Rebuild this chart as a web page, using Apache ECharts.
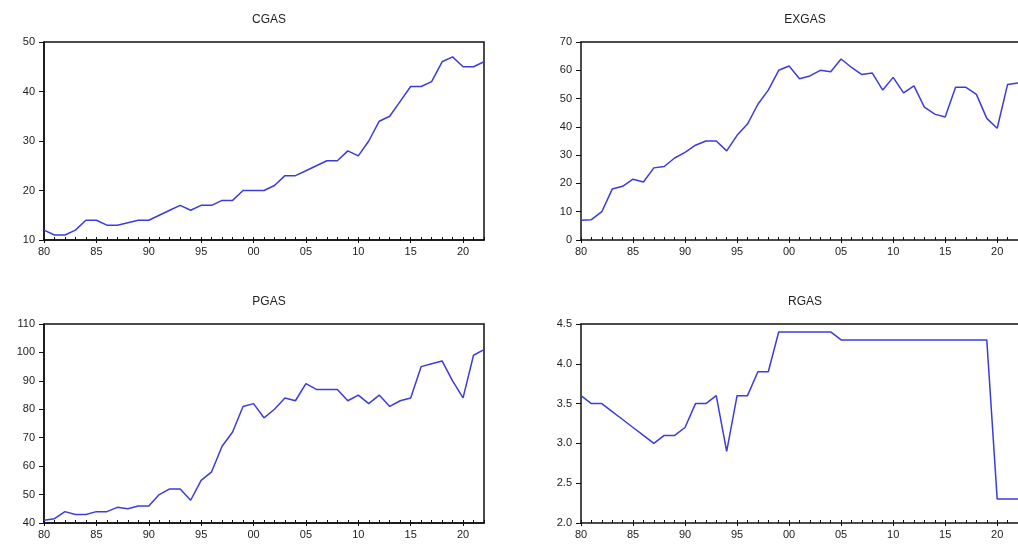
<!DOCTYPE html>
<html>
<head>
<meta charset="utf-8">
<script src="https://cdn.jsdelivr.net/npm/echarts@6/dist/echarts.min.js"></script>
<style>html,body{margin:0;padding:0;background:#fff;overflow:hidden}#c{width:1018px;height:544px}</style>
</head>
<body>
<div id="c"></div>
<script>
const years = [];
for (let y = 1980; y <= 2022; y++) years.push(String(y));

const titles = ['CGAS', 'EXGAS', 'PGAS', 'RGAS'];

const cgas = [12, 11, 11, 12, 14, 14, 13, 13, 13.5, 14, 14, 15, 16, 17, 16, 17, 17, 18, 18, 20,
  20, 20, 21, 23, 23, 24, 25, 26, 26, 28, 27, 30, 34, 35, 38, 41, 41, 42, 46, 47, 45, 45, 46];

const exgas = [7, 7.2, 10, 18, 19, 21.5, 20.5, 25.5, 26, 29, 31, 33.5, 35, 35, 31.5, 37, 41, 48, 53, 60,
  61.5, 57, 58, 60, 59.5, 64, 61, 58.5, 59, 53, 57.5, 52, 54.5, 47, 44.5, 43.5, 54, 54, 51.5, 43, 39.5, 55, 55.5];

const pgas = [41, 41.5, 44, 43, 43, 44, 44, 45.5, 45, 46, 46, 50, 52, 52, 48, 55, 58, 67, 72, 81,
  82, 77, 80, 84, 83, 89, 87, 87, 87, 83, 85, 82, 85, 81, 83, 84, 95, 96, 97, 90, 84, 99, 101];

const rgas = [3.6, 3.5, 3.5, 3.4, 3.3, 3.2, 3.1, 3.0, 3.1, 3.1, 3.2, 3.5, 3.5, 3.6, 2.9, 3.6, 3.6, 3.9, 3.9, 4.4,
  4.4, 4.4, 4.4, 4.4, 4.4, 4.3, 4.3, 4.3, 4.3, 4.3, 4.3, 4.3, 4.3, 4.3, 4.3, 4.3, 4.3, 4.3, 4.3, 4.3, 2.3, 2.3, 2.3];

const yMin = [10, 0, 40, 2.0];
const yMax = [50, 70, 110, 4.5];
const yInterval = [10, 10, 10, 0.5];
const yDecimals = [0, 0, 0, 1];

const seriesData = [cgas, exgas, pgas, rgas];

const grids = [
  { left: 44, top: 42, width: 440, height: 198, cx: 264, border: true },
  { left: 581, top: 42, width: 439, height: 198, cx: 800, border: false },
  { left: 44, top: 324, width: 440, height: 199, cx: 264, border: true },
  { left: 581, top: 324, width: 439, height: 199, cx: 800, border: false }
];

const font = 'Liberation Sans, Arial, sans-serif';
const isMajor = (i) => (1980 + i) % 5 === 0;

const option = {
  backgroundColor: '#fff',
  animation: false,
  title: titles.map((t, i) => ({
    text: t,
    left: grids[i].cx,
    top: grids[i].top - 33,
    textAlign: 'center',
    textStyle: { fontFamily: font, fontSize: 12, fontWeight: 'normal', color: '#222' }
  })),
  grid: grids.map(g => ({
    show: g.border, borderColor: '#111', borderWidth: 1.5, backgroundColor: 'transparent',
    left: g.left, top: g.top, width: g.width, height: g.height
  })),
  xAxis: [],
  yAxis: [],
  series: []
};

for (let i = 0; i < 4; i++) {
  option.xAxis.push({
    type: 'category', gridIndex: i, data: years, boundaryGap: false, position: 'bottom',
    axisLine: { lineStyle: { color: '#111', width: 1.5 } },
    axisTick: { show: true, inside: true, length: 3, interval: 0, lineStyle: { color: '#111', width: 1 } },
    axisLabel: {
      interval: (idx) => isMajor(idx),
      formatter: (v) => v.slice(2),
      fontFamily: font, fontSize: 11, color: '#222', margin: 6
    },
    splitLine: { show: false }
  });
  option.xAxis.push({
    type: 'category', gridIndex: i, data: years, boundaryGap: false, position: 'bottom',
    axisLine: { show: false },
    axisTick: { show: true, inside: false, length: 3, interval: (idx) => isMajor(idx), lineStyle: { color: '#111', width: 1 } },
    axisLabel: { show: false },
    splitLine: { show: false }
  });
  option.xAxis.push({
    type: 'category', gridIndex: i, data: years, boundaryGap: false, position: 'top',
    axisLine: { show: !grids[i].border, lineStyle: { color: '#111', width: 1.5 } },
    axisTick: { show: false },
    axisLabel: { show: false },
    splitLine: { show: false }
  });
  option.yAxis.push({
    type: 'value', gridIndex: i, min: yMin[i], max: yMax[i], interval: yInterval[i],
    axisLine: { show: true, lineStyle: { color: '#111', width: 1.5 } },
    axisTick: { show: true, inside: false, length: 5, lineStyle: { color: '#111', width: 1 } },
    axisLabel: {
      formatter: (v) => v.toFixed(yDecimals[i]),
      fontFamily: font, fontSize: 11, color: '#222', margin: 9
    },
    splitLine: { show: false }
  });
  option.series.push({
    type: 'line', xAxisIndex: i * 3, yAxisIndex: i, data: seriesData[i],
    showSymbol: false, symbol: 'none',
    lineStyle: { color: '#3c3cdc', width: 1.5 },
    clip: true
  });
}

const chart = echarts.init(document.getElementById('c'), null, { renderer: 'canvas' });
chart.setOption(option);
</script>
</body>
</html>
